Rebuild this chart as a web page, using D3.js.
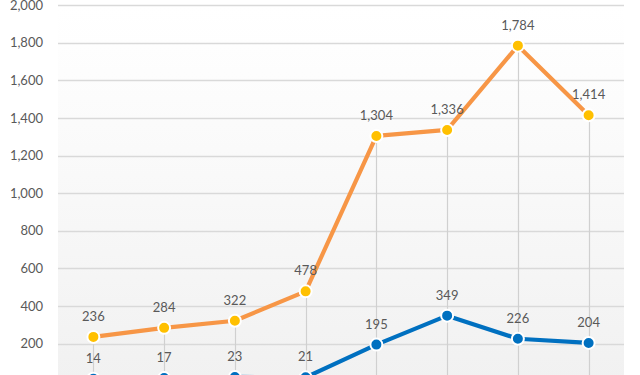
<!DOCTYPE html>
<html>
<head>
<meta charset="utf-8">
<script src="https://cdn.jsdelivr.net/npm/d3@7"></script>
<style>
  html, body { margin: 0; padding: 0; background: #fff; overflow: hidden; }
  svg { display: block; font-family: Lato, "Open Sans", sans-serif; }
</style>
</head>
<body>
<svg id="chart" width="640" height="375"></svg>
<script>
const categories = ["1", "2", "3", "4", "5", "6", "7", "8"];
const seriesBlue = [14, 17, 23, 21, 195, 349, 226, 204];
const seriesOrange = [236, 284, 322, 478, 1304, 1336, 1784, 1414];
const yTicks = [0, 200, 400, 600, 800, 1000, 1200, 1400, 1600, 1800, 2000];
const yTickLabels = [200, 400, 600, 800, 1000, 1200, 1400, 1600, 1800, 2000];

(function () {
const svg = d3.select("#chart");
const pLeft = 58, pRight = 624, pTop = 5, pBottom = 381.3;

const x = d3.scaleBand().domain(categories).range([pLeft, pRight]);
const y = d3.scaleLinear().domain([0, 2000]).range([pBottom, pTop]);
const cx = c => x(c) + x.bandwidth() / 2;

const defs = svg.append("defs");
const grad = defs.append("linearGradient").attr("id", "bg")
  .attr("x1", 0).attr("y1", 0).attr("x2", 0).attr("y2", 1);
grad.append("stop").attr("offset", "0%").attr("stop-color", "#ffffff");
grad.append("stop").attr("offset", "11%").attr("stop-color", "#fefefe");
grad.append("stop").attr("offset", "100%").attr("stop-color", "#f1f1f1");

svg.append("rect").attr("x", pLeft).attr("y", pTop)
  .attr("width", pRight - pLeft).attr("height", pBottom - pTop)
  .attr("fill", "url(#bg)");

// gridlines
svg.append("g").selectAll("line").data(yTicks).join("line")
  .attr("x1", pLeft).attr("x2", pRight)
  .attr("y1", d => Math.round(y(d)) + 0.5).attr("y2", d => Math.round(y(d)) + 0.5)
  .attr("stroke", "#d9d9d9").attr("stroke-width", 1.3);

// y axis labels
const yAxis = d3.axisLeft(y).tickValues(yTickLabels).tickFormat(d3.format(",")).tickSize(0).tickPadding(0);
const ga = svg.append("g").attr("transform", `translate(${pLeft - 15},0)`).call(yAxis);
ga.select(".domain").remove();
ga.selectAll("text").attr("fill", "#595959").attr("font-size", "13px")
  .attr("font-family", "Lato, 'Open Sans', sans-serif");

// drop lines
svg.append("g").selectAll("line").data(categories).join("line")
  .attr("x1", d => Math.round(cx(d)) + 0.5).attr("x2", d => Math.round(cx(d)) + 0.5)
  .attr("y1", (d, i) => y(Math.max(seriesOrange[i], seriesBlue[i])))
  .attr("y2", pBottom)
  .attr("stroke", "#d0d0d0").attr("stroke-width", 1.2);

function drawSeries(values, lineColor, markerColor) {
  const line = d3.line().x((d, i) => cx(categories[i])).y(d => y(d));
  svg.append("path").datum(values).attr("d", line)
    .attr("fill", "none").attr("stroke", lineColor).attr("stroke-width", 4.2)
    .attr("stroke-linejoin", "round");
  svg.append("g").selectAll("circle").data(values).join("circle")
    .attr("cx", (d, i) => cx(categories[i])).attr("cy", d => y(d))
    .attr("r", 6).attr("fill", markerColor)
    .attr("stroke", "#ffffff").attr("stroke-width", 2);
  svg.append("g").selectAll("text").data(values).join("text")
    .attr("x", (d, i) => cx(categories[i])).attr("y", d => y(d) - 16)
    .attr("text-anchor", "middle")
    .attr("fill", "#595959").attr("font-size", "13px")
    .text(d => d3.format(",")(d));
}

drawSeries(seriesBlue, "#0070c0", "#0070c0");
drawSeries(seriesOrange, "#f79646", "#ffc000");
})();
</script>
</body>
</html>
